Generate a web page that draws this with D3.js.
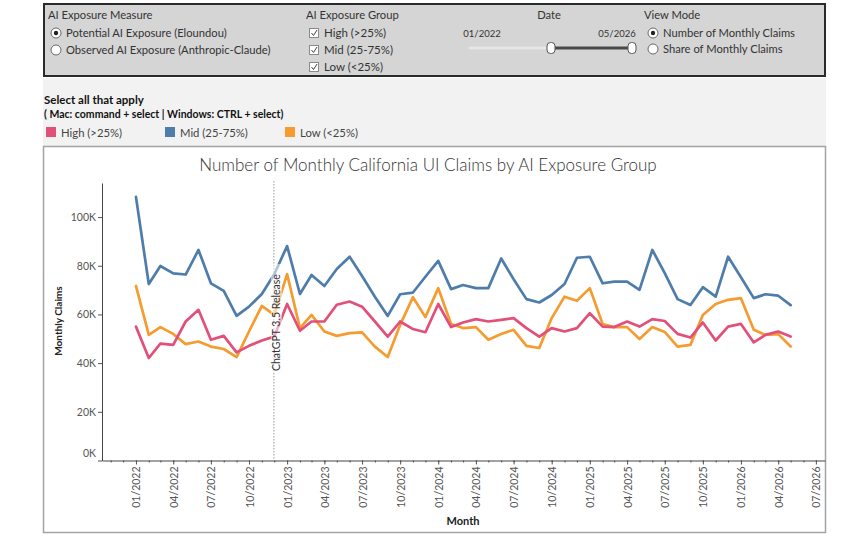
<!DOCTYPE html>
<html>
<head>
<meta charset="utf-8">
<script src="https://cdn.jsdelivr.net/npm/d3@7"></script>
<style>
  body { margin: 0; background: #fff; }
  svg text { font-family: Lato, "Open Sans", sans-serif; }
</style>
</head>
<body>
<svg id="chart" width="860" height="550"></svg>
<script>
// Monthly California UI claims (thousands) by AI exposure group, 01/2022 - 05/2026.
var MONTHS = d3.timeMonth.range(new Date(2022, 0, 1), new Date(2026, 5, 1));

var HIGH = [55, 42.1, 48, 47.5, 57.1, 61.9, 49.6, 51.2, 44.4, 47.1, 49.3, 50.9,
            64.3, 53.3, 57.1, 57.1, 64, 65.3, 63.2, 57.1, 50.9, 57.1, 54, 52.7,
            64.3, 54.8, 56.7, 58.1, 57.1, 57.8, 58.5, 54.4, 50.9, 54.4, 53, 54.4,
            60.5, 55, 54.8, 57.1, 55, 58.1, 57.3, 52, 50.5, 56.7, 49.3, 55,
            56.1, 48.5, 51.6, 53, 50.9];
var MID = [108.3, 72.5, 79.9, 76.9, 76.4, 86.5, 72.8, 69.7, 59.4, 63.2, 68.4, 76.5,
           88.1, 68.4, 76.2, 71.7, 78.7, 83.7, 75.8, 67.3, 59.4, 68.3, 69, 75.5,
           82, 70.4, 72.1, 70.8, 70.8, 83, 74.5, 66.3, 64.9, 68, 72.5, 83.3,
           83.7, 72.8, 73.5, 73.5, 70.1, 86.5, 77, 66.3, 63.9, 71.2, 67.3, 83.7,
           75.3, 66.7, 68.3, 67.7, 63.8];
var LOW = [71.7, 51.6, 54.8, 52, 47.8, 48.9, 46.8, 45.8, 42.5, 53, 63.5, 59.8,
           76.6, 54.4, 59.8, 53, 51.2, 52.3, 52.6, 46.8, 42.5, 55.7, 67.1, 58.9,
           70.8, 56.1, 54.4, 54.8, 49.6, 52, 53.7, 47.1, 46.2, 58.5, 67.3, 65.6,
           70.8, 56.1, 54.8, 54.8, 49.9, 54.8, 52.8, 46.8, 47.5, 59.8, 64.3, 66,
           66.7, 53.7, 51.6, 51.9, 46.8];

var GROUPS = ["High (>25%)", "Mid (25-75%)", "Low (<25%)"];
var MEASURES = ["Potential AI Exposure (Eloundou)", "Observed AI Exposure (Anthropic-Claude)"];
var VIEW_MODES = ["Number of Monthly Claims", "Share of Monthly Claims"];
var Y_TICKS = [0, 20, 40, 60, 80, 100];
var RELEASE = new Date(2022, 10, 30);

var COLOURS = { "High (>25%)": "#e2507a", "Mid (25-75%)": "#4e7cab", "Low (<25%)": "#f59b2f" };
var SERIES = [
  { name: GROUPS[1], values: MID },
  { name: GROUPS[2], values: LOW },
  { name: GROUPS[0], values: HIGH }
];

var svg = d3.select("#chart");
var INK = "#333";

// -- backgrounds -----------------------------------------------------------
svg.append("rect").attr("x", 43).attr("y", 78).attr("width", 783).attr("height", 68)
  .attr("fill", "#f2f2f2");
svg.append("rect").attr("x", 44).attr("y", 4).attr("width", 781).attr("height", 72)
  .attr("fill", "#d5d5d5").attr("stroke", "#2a2a2a").attr("stroke-width", 2);
svg.append("rect").attr("x", 43.5).attr("y", 146.5).attr("width", 782).attr("height", 386)
  .attr("fill", "#fff").attr("stroke", "#a3a3a3").attr("stroke-width", 1.5);

// -- control panel -----------------------------------------------------------
function label(x, y, txt, opts) {
  opts = opts || {};
  return svg.append("text").attr("x", x).attr("y", y)
    .attr("font-size", opts.size || 11.2)
    .attr("font-weight", opts.weight || (opts.bold ? 700 : 400))
    .attr("text-anchor", opts.anchor || "start")
    .attr("fill", opts.fill || INK)
    .text(txt);
}

function radio(cx, cy, on, txt) {
  svg.append("circle").attr("cx", cx).attr("cy", cy).attr("r", 5)
    .attr("fill", "#fff").attr("stroke", "#6a6a6a");
  if (on) svg.append("circle").attr("cx", cx).attr("cy", cy).attr("r", 2.2).attr("fill", "#222");
  label(cx + 10, cy + 4, txt);
}

function checkbox(x, y, txt) {
  svg.append("rect").attr("x", x + 0.5).attr("y", y + 0.5).attr("width", 9).attr("height", 9)
    .attr("fill", "#fff").attr("stroke", "#8a8a8a");
  svg.append("path").attr("d", "M" + (x + 2.5) + "," + (y + 5) + "l2,2.5l3.5,-5.5")
    .attr("fill", "none").attr("stroke", "#444").attr("stroke-width", 1);
  label(x + 15, y + 9, txt, { size: 11.5 });
}

label(48, 19, "AI Exposure Measure", { size: 11.2 });
MEASURES.forEach(function (m, i) { radio(56, 33 + i * 17, i === 0, m); });

label(306, 19, "AI Exposure Group", { size: 11.2 });
GROUPS.forEach(function (g, i) { checkbox(309, 28 + i * 17, g); });

label(549, 19, "Date", { size: 11.2, anchor: "middle" });
label(482, 37, "01/2022", { size: 9.5, anchor: "middle" });
label(617, 37, "05/2026", { size: 9.5, anchor: "middle" });
svg.append("line").attr("x1", 470).attr("x2", 551).attr("y1", 48).attr("y2", 48)
  .attr("stroke", "#e6e6e6").attr("stroke-width", 3).attr("stroke-linecap", "round");
svg.append("line").attr("x1", 551).attr("x2", 632).attr("y1", 48).attr("y2", 48)
  .attr("stroke", "#4a4a4a").attr("stroke-width", 3);
[551, 632].forEach(function (hx) {
  svg.append("rect").attr("x", hx - 4).attr("y", 42.5).attr("width", 8).attr("height", 11)
    .attr("rx", 3.5).attr("fill", "#fff").attr("stroke", "#555");
});

label(644, 19, "View Mode", { size: 11.2 });
VIEW_MODES.forEach(function (m, i) { radio(653, 33 + i * 16, i === 0, m); });

// -- legend ----------------------------------------------------------------
label(44, 104, "Select all that apply", { size: 11.5, bold: true, fill: "#111" });
label(44, 118, "( Mac: command + select | Windows: CTRL + select)", { size: 10.5, bold: true, fill: "#111" });
var legendX = [46, 165, 285];
GROUPS.forEach(function (g, i) {
  svg.append("rect").attr("x", legendX[i]).attr("y", 127).attr("width", 10).attr("height", 10)
    .attr("fill", COLOURS[g]);
  label(legendX[i] + 15, 137, g, { size: 11.3, fill: "#444" });
});

// -- chart -----------------------------------------------------------------
label(428, 171, "Number of Monthly California UI Claims by AI Exposure Group",
  { size: 17, weight: 300, anchor: "middle", fill: "#333" });

var x = d3.scaleTime()
  .domain([new Date(2021, 9, 11), new Date(2026, 6, 23)])
  .range([102, 825]);
var y = d3.scaleLinear().domain([0, 114]).range([460.5, 183]);

var gx = svg.append("g").attr("transform", "translate(0,460.5)");
gx.call(d3.axisBottom(x)
  .tickValues(d3.timeMonth.range(new Date(2021, 10, 1), new Date(2026, 7, 1)))
  .tickSize(2).tickFormat(""));
gx.call(function (g) { g.select(".domain").remove(); });
var gq = svg.append("g").attr("transform", "translate(0,460.5)");
gq.call(d3.axisBottom(x)
  .tickValues(d3.timeMonth.every(3).range(new Date(2022, 0, 1), new Date(2026, 7, 1)))
  .tickSize(4).tickSizeOuter(0).tickFormat(d3.timeFormat("%m/%Y")));
[gx, gq].forEach(function (g) { g.selectAll(".tick line").attr("stroke", "#555"); });
gq.select(".domain").attr("stroke", "#444");
gq.selectAll(".tick text")
  .attr("font-size", 10.5).attr("fill", "#555")
  .attr("text-anchor", "end").attr("dx", 0).attr("dy", 0)
  .attr("transform", "translate(4,6) rotate(-90)")
  .attr("x", 0).attr("y", 0);

var gy = svg.append("g").attr("transform", "translate(102,0)");
gy.call(d3.axisLeft(y).tickValues(Y_TICKS).tickSize(4).tickSizeOuter(0)
  .tickFormat(function (d) { return d + "K"; }));
gy.select(".domain").attr("stroke", "#444");
gy.selectAll(".tick line").attr("stroke", "#555");
gy.selectAll(".tick text").attr("font-size", 10.5).attr("fill", "#555").attr("x", -6);
gy.selectAll(".tick text").filter(function (d) { return d === 0; }).attr("dy", "-0.35em");

svg.append("text").attr("transform", "translate(62,321) rotate(-90)")
  .attr("text-anchor", "middle").attr("font-size", 10).attr("font-weight", 700)
  .attr("fill", "#222").text("Monthly Claims");
label(463, 525, "Month", { size: 11, bold: true, anchor: "middle", fill: "#222" });

// release marker
svg.append("line").attr("x1", x(RELEASE)).attr("x2", x(RELEASE))
  .attr("y1", 181).attr("y2", 460)
  .attr("stroke", "#9a9a9a").attr("stroke-dasharray", "1.5,1.5");

var line = d3.line()
  .x(function (d, i) { return x(MONTHS[i]); })
  .y(function (d) { return y(d); });

svg.append("g").selectAll("path")
  .data(SERIES).join("path")
  .attr("d", function (s) { return line(s.values); })
  .attr("fill", "none")
  .attr("stroke", function (s) { return COLOURS[s.name]; })
  .attr("stroke-width", 2.7)
  .attr("stroke-linejoin", "round")
  .attr("stroke-linecap", "round");

svg.append("rect").attr("x", x(RELEASE) - 3).attr("y", 264).attr("width", 11).attr("height", 108)
  .attr("fill", "#fff").attr("opacity", 0.55);
svg.append("text")
  .attr("transform", "translate(" + (x(RELEASE) + 6) + ",371) rotate(-90)")
  .attr("font-size", 10.5).attr("fill", "#333")
  .text("ChatGPT 3.5 Release");
</script>
</body>
</html>
